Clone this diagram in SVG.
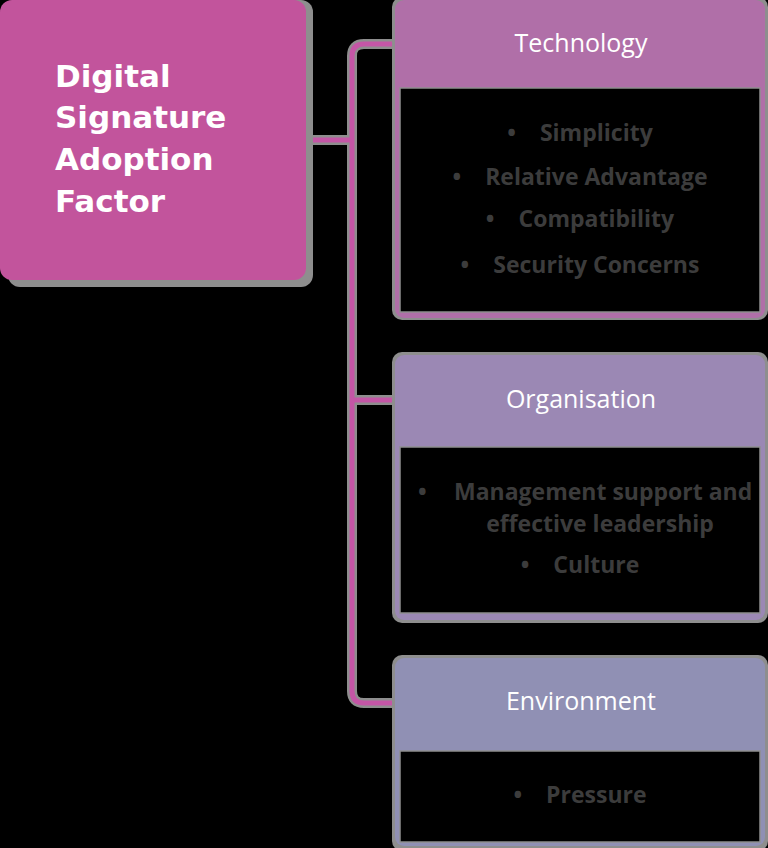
<svg xmlns="http://www.w3.org/2000/svg" width="768" height="848" viewBox="0 0 768 848">
<style>
.halo{fill:#8e8e8e}
.content{fill:#000;stroke:#8e8e8e;stroke-width:1.5}
.title{font-family:"DejaVu Sans","Open Sans",sans-serif;font-weight:700;font-size:31px;fill:#fff}
.head{font-family:"Open Sans","DejaVu Sans",sans-serif;font-weight:400;font-size:25px;fill:#fff;text-anchor:middle}
.item{font-family:"Open Sans","DejaVu Sans",sans-serif;font-weight:700;font-size:23px;fill:#3c3c3c}
.mid{text-anchor:middle}
.conn-halo{fill:none;stroke:#8e8e8e;stroke-width:10;stroke-linejoin:round}
.conn{fill:none;stroke:#c456a6;stroke-width:5;stroke-linejoin:round}
</style>
<rect x="0" y="0" width="768" height="848" fill="#000"/>

<g id="connectors">
  <path class="conn-halo" d="M306 140 H352 M395 44 H364 Q352 44 352 56 V691 Q352 703 364 703 H395 M352 400 H395"/>
  <path class="conn" d="M306 140 H352 M395 44 H364 Q352 44 352 56 V691 Q352 703 364 703 H395 M352 400 H395"/>
</g>

<g id="main">
  <rect class="halo" x="8" y="0" width="305" height="287" rx="12"/>
  <rect x="0" y="0" width="306" height="280" rx="12" fill="#c2549c"/>
  <text class="title" x="55" y="87">Digital</text>
  <text class="title" x="55" y="128">Signature</text>
  <text class="title" x="55" y="170">Adoption</text>
  <text class="title" x="55" y="212">Factor</text>
</g>

<g id="technology">
  <rect class="halo" x="392" y="-3" width="376" height="323" rx="10"/>
  <rect x="395" y="0" width="370" height="318" rx="9" fill="#b06fa8"/>
  <rect class="content" x="400" y="88" width="360" height="224"/>
  <text class="head" x="581" y="52">Technology</text>
  <text class="item mid" x="580" y="141">•<tspan dx="24">Simplicity</tspan></text>
  <text class="item mid" x="580" y="185">•<tspan dx="24">Relative Advantage</tspan></text>
  <text class="item mid" x="580" y="227">•<tspan dx="24">Compatibility</tspan></text>
  <text class="item mid" x="580" y="273">•<tspan dx="24">Security Concerns</tspan></text>
</g>

<g id="organisation">
  <rect class="halo" x="392" y="352" width="376" height="271" rx="10"/>
  <rect x="395" y="355" width="370" height="265" rx="9" fill="#9b88b4"/>
  <rect class="content" x="400" y="447" width="360" height="166"/>
  <text class="head" x="581" y="408">Organisation</text>
  <text class="item" x="418" y="500">•</text>
  <text class="item" x="454" y="500">Management support and</text>
  <text class="item mid" x="600" y="532">effective leadership</text>
  <text class="item mid" x="580" y="573">•<tspan dx="24">Culture</tspan></text>
</g>

<g id="environment">
  <rect class="halo" x="392" y="655" width="376" height="196" rx="10"/>
  <rect x="395" y="658" width="370" height="188" rx="9" fill="#9090b4"/>
  <rect class="content" x="400" y="751" width="360" height="91"/>
  <text class="head" x="581" y="710">Environment</text>
  <text class="item mid" x="580" y="803">•<tspan dx="24">Pressure</tspan></text>
</g>
</svg>
